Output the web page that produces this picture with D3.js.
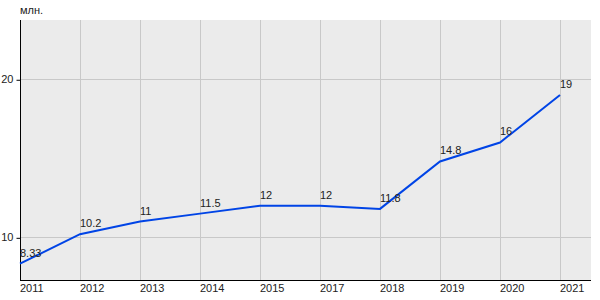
<!DOCTYPE html>
<html>
<head>
<meta charset="utf-8">
<script src="https://cdn.jsdelivr.net/npm/d3@7"></script>
<style>
  body { margin: 0; background: #fff; }
  text { font-family: "Liberation Sans", Arial, sans-serif; font-size: 11px; fill: #222; }
</style>
</head>
<body>
<svg id="chart" width="600" height="300"></svg>
<script>
var years = ["2011", "2012", "2013", "2014", "2015", "2017", "2018", "2019", "2020", "2021"];
var values = [8.33, 10.2, 11, 11.5, 12, 12, 11.8, 14.8, 16, 19];
var valueLabels = ["8.33", "10.2", "11", "11.5", "12", "12", "11.8", "14.8", "16", "19"];
var yTicks = [10, 20];
var unitLabel = "млн.";

var svg = d3.select("#chart");
var margin = {top: 20, right: 9, bottom: 20, left: 20};
var width = 600 - margin.left - margin.right;
var height = 300 - margin.top - margin.bottom;

var x = d3.scalePoint()
    .domain(years)
    .range([0, 540]);

var y = d3.scaleLinear()
    .domain([7.3, 23.75])
    .range([height, 0]);

var g = svg.append("g")
    .attr("transform", "translate(" + margin.left + "," + margin.top + ")");

g.append("rect")
    .attr("width", width)
    .attr("height", height)
    .attr("fill", "#ebebeb");

// grid
g.selectAll(".vgrid")
    .data(years.slice(1))
    .enter().append("line")
    .attr("x1", d => x(d) + 0.5)
    .attr("x2", d => x(d) + 0.5)
    .attr("y1", 0)
    .attr("y2", height)
    .attr("stroke", "#c8c8c8");

g.selectAll(".hgrid")
    .data(yTicks)
    .enter().append("line")
    .attr("x1", 0)
    .attr("x2", width)
    .attr("y1", d => Math.round(y(d)) + 0.5)
    .attr("y2", d => Math.round(y(d)) + 0.5)
    .attr("stroke", "#c8c8c8");

// y axis
var yAxis = d3.axisLeft(y).tickValues(yTicks).tickSize(4).tickPadding(3);
var ya = g.append("g").attr("transform", "translate(0.5,0)").call(yAxis);
ya.select(".domain").remove();
ya.selectAll("line").attr("stroke", "#000").attr("transform", "translate(0,0.5)");
ya.selectAll("text").attr("font-family", null).attr("font-size", null).attr("fill", null);

g.append("line")
    .attr("x1", 0.5).attr("x2", 0.5)
    .attr("y1", 0).attr("y2", height)
    .attr("stroke", "#000");

// x axis
g.append("line")
    .attr("x1", 0).attr("x2", width)
    .attr("y1", height + 0.5).attr("y2", height + 0.5)
    .attr("stroke", "#000");

g.selectAll(".xlab")
    .data(years)
    .enter().append("text")
    .attr("x", d => x(d))
    .attr("y", height + 12)
    .text(d => d);

// line
var line = d3.line()
    .x((d, i) => x(years[i]))
    .y(d => y(d));

g.append("path")
    .datum(values)
    .attr("d", line)
    .attr("fill", "none")
    .attr("stroke", "#0044e6")
    .attr("stroke-width", 2);

g.selectAll(".vlab")
    .data(values)
    .enter().append("text")
    .attr("x", (d, i) => x(years[i]))
    .attr("y", d => y(d) - 7)
    .text((d, i) => valueLabels[i]);

svg.append("text")
    .attr("x", 20)
    .attr("y", 14)
    .text(unitLabel);
</script>
</body>
</html>
